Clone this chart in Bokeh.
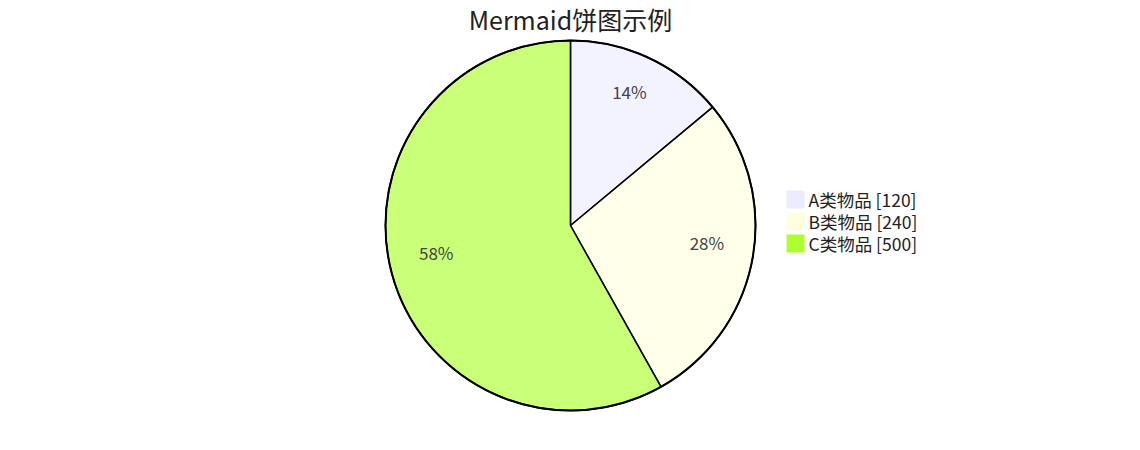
import numpy as np
from bokeh.plotting import figure
from bokeh.models import Range1d, ColumnDataSource
from bokeh.core.properties import value
from bokeh.embed import file_html
from bokeh.resources import INLINE

title = "Mermaid饼图示例"
categories = ["A类物品", "B类物品", "C类物品"]
values = [120, 240, 500]
colors = ["#ECECFF", "#FFFFDE", "#ADFF2F"]

W, H = 1124, 434
FONT = "Noto Sans CJK SC"

p = figure(width=W, height=H, output_backend="svg", toolbar_location=None,
           x_range=Range1d(0, W), y_range=Range1d(450 - H, 450),
           min_border=0, outline_line_color=None)
p.axis.visible = False
p.grid.visible = False

cx, cy, r = 570, 450 - 225, 185
vals = np.array(values, dtype=float)
frac = vals / vals.sum()
cum = np.concatenate([[0], np.cumsum(frac)])
start = np.pi / 2 - cum[:-1] * 2 * np.pi
end = np.pi / 2 - cum[1:] * 2 * np.pi
src = ColumnDataSource(dict(start=start, end=end, color=colors))
p.wedge(x=cx, y=cy, radius=r, start_angle="start", end_angle="end", direction="clock",
        fill_color="color", fill_alpha=0.65, line_color="black", line_width=1.5, source=src)
p.circle(x=cx, y=cy, radius=r, fill_color=None, line_color="black", line_width=2)

mid = np.pi / 2 - (cum[:-1] + frac / 2) * 2 * np.pi
lr = r * 0.75
labels = [f"{round(f * 100)}%" for f in frac]
p.text(x=cx + lr * np.cos(mid), y=cy + lr * np.sin(mid) + 8, text=labels,
       text_font=value(FONT), text_font_size="17px", text_color="#444444",
       text_align="center", text_baseline="middle")

# legend
ly = 450 - (199 + 22 * np.arange(len(categories)))
p.rect(x=[795] * 3, y=ly, width=18, height=18, fill_color=colors, line_color=None)
p.text(x=[808] * 3, y=ly, text=[f"{c} [{v}]" for c, v in zip(categories, values)],
       text_font=value(FONT), text_font_size="17.5px", text_color="#222222",
       text_align="left", text_baseline="middle")

p.text(x=[570], y=[450 - 18], text=[title], text_font=value(FONT), text_font_size="25px",
       text_color="#222222", text_align="center", text_baseline="middle")

open("out.html", "w").write(file_html(p, INLINE))
